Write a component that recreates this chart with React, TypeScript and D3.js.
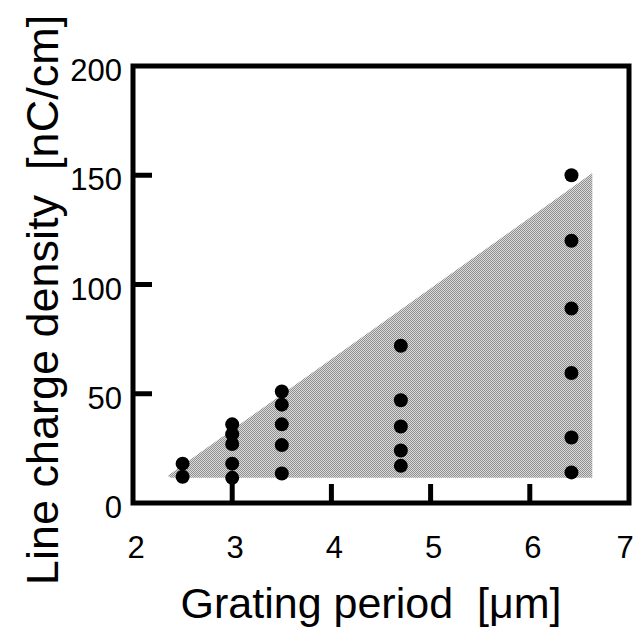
import * as React from 'react'
import * as d3 from 'd3'

// grating period (um) for each column of measured points
const periods = [2.5, 3, 3.5, 4.7, 6.42]
// line charge density values (nC/cm) in each column
const densities = [
  [18, 12],
  [36, 31.5, 27, 18, 11.5],
  [51, 45, 36, 26.5, 13.5],
  [72, 47, 35, 24, 17],
  [150, 120, 89, 59.5, 30, 14],
]
// outline of the shaded region
const shadeX = [2.35, 6.63, 6.63, 2.38]
const shadeY = [12.5, 151, 11.5, 11.5]

const xTicks = [2, 3, 4, 5, 6, 7]
const yTicks = [0, 50, 100, 150, 200]

const W = 635
const H = 632
const FONT = '"Liberation Sans", Arial, Helvetica, sans-serif'

export default function App() {
  const ref = React.useRef<SVGSVGElement>(null)

  React.useEffect(() => {
    const svg = d3.select(ref.current)
    svg.selectAll('*').remove()

    const x = d3.scaleLinear().domain([2, 7]).range([133, 629])
    const y = d3.scaleLinear().domain([0, 200]).range([503, 66])

    const defs = svg.append('defs')
    const pat = defs
      .append('pattern')
      .attr('id', 'halftone')
      .attr('width', 2)
      .attr('height', 2)
      .attr('patternUnits', 'userSpaceOnUse')
    pat.append('rect').attr('width', 2).attr('height', 2).attr('fill', '#dadada')
    pat.append('rect').attr('width', 1).attr('height', 1).attr('fill', '#909090')
    pat.append('rect').attr('x', 1).attr('y', 1).attr('width', 1).attr('height', 1).attr('fill', '#909090')

    // shaded region
    const pts: [number, number][] = shadeX.map((v, i) => [x(v), y(shadeY[i])])
    svg
      .append('path')
      .attr('d', d3.line()(pts) + 'Z')
      .attr('fill', 'url(#halftone)')

    // frame
    svg
      .append('rect')
      .attr('x', x(2))
      .attr('y', y(200))
      .attr('width', x(7) - x(2))
      .attr('height', y(0) - y(200))
      .attr('fill', 'none')
      .attr('stroke', '#000')
      .attr('stroke-width', 5)

    // inward ticks
    svg
      .selectAll('line.xtick')
      .data(xTicks.slice(1, -1))
      .enter()
      .append('line')
      .attr('x1', (d) => x(d))
      .attr('x2', (d) => x(d))
      .attr('y1', y(0))
      .attr('y2', y(0) - 19)
      .attr('stroke', '#000')
      .attr('stroke-width', 5)

    svg
      .selectAll('line.ytick')
      .data(yTicks.slice(1, -1))
      .enter()
      .append('line')
      .attr('x1', x(2))
      .attr('x2', x(2) + 19)
      .attr('y1', (d) => y(d))
      .attr('y2', (d) => y(d))
      .attr('stroke', '#000')
      .attr('stroke-width', 5)

    // tick labels
    svg
      .selectAll('text.xl')
      .data(xTicks)
      .enter()
      .append('text')
      .attr('x', (d) => Math.min(x(d) + 3, W - 10))
      .attr('y', 558)
      .attr('text-anchor', 'middle')
      .attr('font-family', FONT)
      .attr('font-size', 31)
      .text((d) => d)

    svg
      .selectAll('text.yl')
      .data(yTicks)
      .enter()
      .append('text')
      .attr('x', 122)
      .attr('y', (d) => y(d) + 15)
      .attr('text-anchor', 'end')
      .attr('font-family', FONT)
      .attr('font-size', 31)
      .text((d) => d)

    // points
    const flat = periods.flatMap((p, i) => densities[i].map((v) => [p, v]))
    svg
      .selectAll('circle')
      .data(flat)
      .enter()
      .append('circle')
      .attr('cx', (d) => x(d[0]))
      .attr('cy', (d) => y(d[1]))
      .attr('r', 7)
      .attr('fill', '#000')

    // axis titles
    svg
      .append('text')
      .attr('x', 371)
      .attr('y', 618)
      .attr('text-anchor', 'middle')
      .attr('font-family', FONT)
      .attr('font-size', 43)
      .style('white-space', 'pre')
      .text('Grating period  [\u03bcm]')

    svg
      .append('text')
      .attr('transform', 'translate(58,300) rotate(-90)')
      .attr('text-anchor', 'middle')
      .attr('font-family', FONT)
      .attr('font-size', 45)
      .style('white-space', 'pre')
      .text('Line charge density  [nC/cm]')
  }, [])

  return (
    <svg
      ref={ref}
      width={W}
      height={H}
      style={{ position: 'absolute', left: 0, top: 0, background: '#fff' }}
    />
  )
}
